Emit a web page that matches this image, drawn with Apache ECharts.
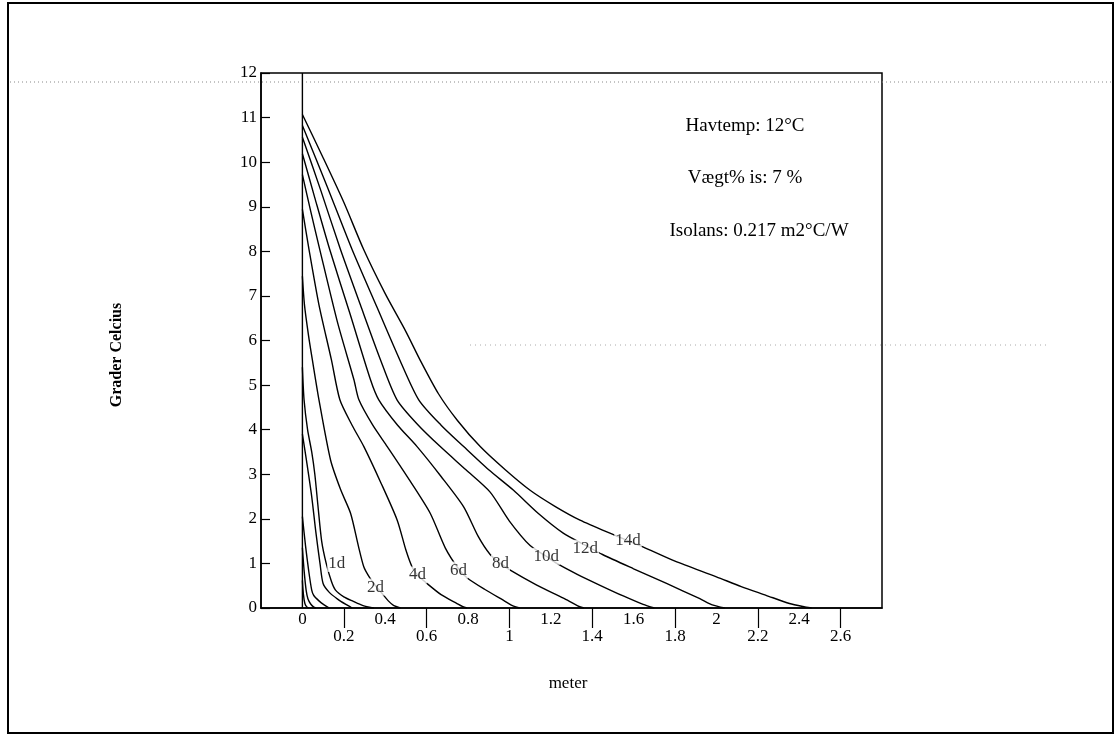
<!DOCTYPE html>
<html>
<head>
<meta charset="utf-8">
<title>Havtemp 12°C</title>
<script src="https://cdn.jsdelivr.net/npm/echarts@6/dist/echarts.min.js"></script>
<style>
  html, body { margin: 0; padding: 0; background: #fff; }
  #chart { width: 1116px; height: 740px; }
</style>
</head>
<body>
<div id="chart"></div>
<script>
// temperatur (°C) mod dybde (m)
var curve0 = [[0, 12], [0, 0]]
var curveA = [[0, 0.62], [0.005, 0.3], [0.012, 0.1], [0.02, 0.03], [0.03, 0]]
var curveB = [[0, 1.35], [0.008, 0.85], [0.018, 0.4], [0.027, 0.2], [0.04, 0.09], [0.055, 0.02], [0.065, 0]]
var curveC = [[0, 2.05], [0.015, 1.4], [0.03, 0.85], [0.045, 0.4], [0.055, 0.28], [0.08, 0.16], [0.105, 0.07], [0.13, 0]]
var curveD = [[0, 3.9], [0.02, 3.3], [0.045, 2.5], [0.065, 1.7], [0.085, 1.0], [0.1, 0.55], [0.13, 0.35], [0.17, 0.2], [0.21, 0.08], [0.24, 0]]
var curve1d = [[0, 5.4], [0.008, 4.67], [0.025, 4.0], [0.045, 3.5], [0.06, 3.0], [0.075, 2.3], [0.093, 1.5], [0.115, 1.0], [0.14, 0.6], [0.16, 0.4], [0.2, 0.25], [0.246, 0.15], [0.29, 0.06], [0.33, 0.01], [0.345, 0]]
var curve2d = [[0, 7.44], [0.01, 6.8], [0.03, 6.1], [0.048, 5.57], [0.08, 4.67], [0.136, 3.32], [0.185, 2.65], [0.233, 2.12], [0.27, 1.4], [0.297, 0.92], [0.325, 0.68], [0.353, 0.5], [0.386, 0.32], [0.415, 0.16], [0.44, 0.06], [0.474, 0]]
var curve4d = [[0, 8.94], [0.032, 8.04], [0.08, 6.8], [0.14, 5.57], [0.181, 4.67], [0.24, 4.1], [0.297, 3.62], [0.38, 2.8], [0.458, 1.97], [0.5, 1.3], [0.53, 0.92], [0.556, 0.74], [0.602, 0.55], [0.67, 0.3], [0.747, 0.1], [0.775, 0.03], [0.795, 0]]
var curve6d = [[0, 9.72], [0.04, 8.9], [0.084, 8.04], [0.17, 6.4], [0.249, 5.12], [0.273, 4.67], [0.34, 4.1], [0.41, 3.62], [0.52, 2.85], [0.618, 2.12], [0.69, 1.35], [0.754, 0.88], [0.795, 0.68], [0.88, 0.42], [0.972, 0.17], [1.02, 0.04], [1.05, 0]]
var curve8d = [[0, 10.19], [0.06, 9.2], [0.132, 8.04], [0.23, 6.6], [0.329, 5.12], [0.369, 4.67], [0.46, 4.1], [0.554, 3.62], [0.67, 2.95], [0.779, 2.27], [0.85, 1.6], [0.907, 1.2], [0.957, 1.0], [1.004, 0.85], [1.13, 0.52], [1.261, 0.22], [1.33, 0.05], [1.36, 0]]
var curve10d = [[0, 10.56], [0.09, 9.35], [0.184, 8.04], [0.28, 6.8], [0.377, 5.57], [0.457, 4.67], [0.56, 4.1], [0.666, 3.62], [0.79, 3.1], [0.907, 2.6], [1.0, 1.95], [1.1, 1.4], [1.178, 1.16], [1.229, 1.0], [1.33, 0.75], [1.438, 0.51], [1.55, 0.27], [1.646, 0.08], [1.7, 0]]
var curve12d = [[0, 10.82], [0.12, 9.45], [0.24, 8.04], [0.36, 6.75], [0.47, 5.57], [0.562, 4.67], [0.67, 4.1], [0.779, 3.62], [0.9, 3.1], [1.02, 2.64], [1.14, 2.12], [1.26, 1.68], [1.366, 1.41], [1.45, 1.2], [1.6, 0.88], [1.759, 0.55], [1.92, 0.21], [1.98, 0.07], [2.04, 0]]
var curve14d = [[0, 11.07], [0.1, 10.1], [0.2, 9.1], [0.296, 8.04], [0.4, 7.05], [0.5, 6.2], [0.57, 5.55], [0.658, 4.8], [0.75, 4.2], [0.859, 3.62], [0.98, 3.1], [1.1, 2.64], [1.22, 2.28], [1.341, 1.97], [1.5, 1.65], [1.645, 1.37], [1.8, 1.05], [2.0, 0.7], [2.12, 0.48], [2.24, 0.285], [2.353, 0.1], [2.434, 0.02], [2.46, 0]]

// kurvenavne og hvor de står
var dayLabels = ['1d', '2d', '4d', '6d', '8d', '10d', '12d', '14d']
var dayLabelX = [0.166, 0.353, 0.556, 0.754, 0.957, 1.178, 1.366, 1.573]
var dayLabelY = [1.0, 0.47, 0.74, 0.85, 1.0, 1.16, 1.34, 1.52]

// akser
var xTickValues = [0, 0.2, 0.4, 0.6, 0.8, 1, 1.2, 1.4, 1.6, 1.8, 2, 2.2, 2.4, 2.6]
var xTickLabels = ['0', '0.2', '0.4', '0.6', '0.8', '1', '1.2', '1.4', '1.6', '1.8', '2', '2.2', '2.4', '2.6']
var xLongTicks = [0.2, 0.6, 1, 1.4, 1.8, 2.2, 2.6]

var serif = 'Liberation Serif'
var allCurves = [curve0, curveA, curveB, curveC, curveD, curve1d, curve2d, curve4d, curve6d, curve8d, curve10d, curve12d, curve14d]

var chart = echarts.init(document.getElementById('chart'))

var series = allCurves.map(function (c) {
  return {
    type: 'line',
    data: c,
    symbol: 'none',
    silent: true,
    smooth: 0.25,
    lineStyle: { color: '#000', width: 1.4 },
    z: 2
  }
})
series.push({
  type: 'scatter',
  symbolSize: 0,
  silent: true,
  z: 5,
  data: dayLabels.map(function (n, i) { return { value: [dayLabelX[i], dayLabelY[i]], name: n } }),
  label: {
    show: true,
    position: 'inside',
    formatter: '{b}',
    color: '#000',
    fontFamily: serif,
    fontSize: 17,
    backgroundColor: '#fff',
    padding: [0, 1]
  }
})

var option = {
  animation: false,
  backgroundColor: '#fff',
  grid: {
    left: 261, top: 73, width: 621, height: 535,
    show: true, borderColor: '#000', borderWidth: 1.5
  },
  xAxis: {
    type: 'value',
    min: -0.2,
    max: 2.8,
    interval: 0.2,
    splitLine: { show: false },
    axisLine: { show: true, onZero: false, lineStyle: { color: '#000', width: 1.5 } },
    axisTick: { show: true, length: 20, customValues: xLongTicks, lineStyle: { color: '#000', width: 1.2 } },
    axisLabel: {
      customValues: xTickValues,
      margin: 3,
      color: '#000',
      fontFamily: serif,
      fontSize: 17,
      lineHeight: 17,
      formatter: function (v) {
        var i = xTickValues.indexOf(Math.round(v * 10) / 10)
        var txt = i >= 0 ? xTickLabels[i] : ''
        return i % 2 === 1 ? '\n' + txt : txt
      }
    }
  },
  yAxis: {
    type: 'value',
    min: 0,
    max: 12,
    interval: 1,
    splitLine: { show: false },
    axisLine: { show: true, onZero: false, lineStyle: { color: '#000', width: 1.5 } },
    axisTick: { show: true, inside: true, length: 9, lineStyle: { color: '#000', width: 1.2 } },
    axisLabel: { margin: 4, color: '#000', fontFamily: serif, fontSize: 17 }
  },
  graphic: [
    { type: 'rect', shape: { x: 8, y: 3, width: 1105, height: 730 }, style: { fill: 'none', stroke: '#000', lineWidth: 2 }, z: 0 },
    // skannestriber
    { type: 'line', shape: { x1: 10, y1: 82, x2: 1112, y2: 82 }, style: { stroke: '#888', lineWidth: 1, lineDash: [1, 3] }, z: 0 },
    { type: 'line', shape: { x1: 470, y1: 345, x2: 1050, y2: 345 }, style: { stroke: '#aaa', lineWidth: 1, lineDash: [1, 4] }, z: 0 },
    { type: 'text', x: 745, y: 126, style: { text: 'Havtemp: 12°C', font: '19px "Liberation Serif"', fill: '#000', align: 'center', verticalAlign: 'middle' } },
    { type: 'text', x: 745, y: 178, style: { text: 'Vægt% is: 7 %', font: '19px "Liberation Serif"', fill: '#000', align: 'center', verticalAlign: 'middle' } },
    { type: 'text', x: 759, y: 231, style: { text: 'Isolans: 0.217 m2°C/W', font: '19px "Liberation Serif"', fill: '#000', align: 'center', verticalAlign: 'middle' } },
    { type: 'text', x: 117, y: 355, rotation: Math.PI / 2, style: { text: 'Grader Celcius', font: 'bold 16px "Liberation Serif"', fill: '#000', align: 'center', verticalAlign: 'middle' } },
    { type: 'text', x: 568, y: 684, style: { text: 'meter', font: '17px "Liberation Serif"', fill: '#000', align: 'center', verticalAlign: 'middle' } }
  ],
  series: series
}
chart.setOption(option)
</script>
</body>
</html>
